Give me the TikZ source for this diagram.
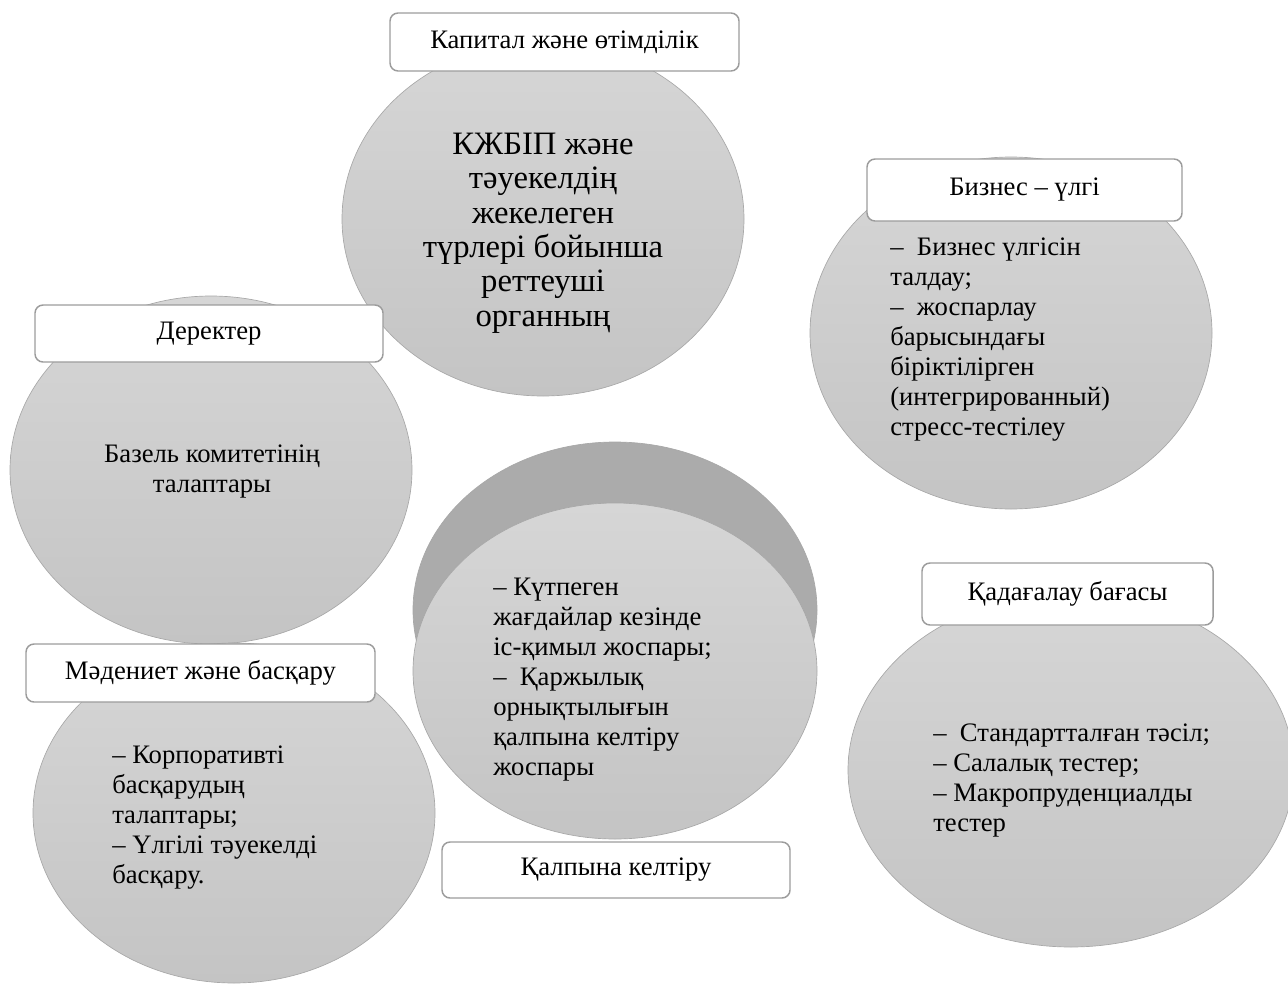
\documentclass[tikz,border=0pt]{standalone}
\usepackage{fontspec}
\setmainfont{Liberation Serif}
\usepackage{xcolor}
\usetikzlibrary{shapes.geometric, positioning}

\definecolor{bubtop}{HTML}{D6D6D6}
\definecolor{bubbot}{HTML}{C4C4C4}
\definecolor{bubline}{HTML}{A8A8A8}
\definecolor{backbub}{HTML}{ABABAB}
\definecolor{tagline}{HTML}{9C9C9C}

\tikzset{
  bubble/.style={ellipse, draw=bubline, line width=0.5pt, top color=bubtop, bottom color=bubbot, inner sep=0pt},
  tag/.style={draw=tagline, fill=white, line width=1.1pt, rounded corners=6pt, inner sep=0pt,
    font=\fontsize{20}{23}\selectfont},
  bodytext/.style={inner sep=0pt, font=\fontsize{20}{22.5}\selectfont},
}

\begin{document}
\begin{tikzpicture}[x=0.75pt, y=-0.75pt]
  \useasboundingbox (0,0) rectangle (1288,985);
  % bubbles
  \node[bubble, minimum width=301.5pt, minimum height=265.5pt] (capital) at (543,219) {};
  \node[bubble, minimum width=301.5pt, minimum height=261pt] (data) at (211,470) {};
  \node[bubble, minimum width=301.5pt, minimum height=264pt] (business) at (1011,333) {};
  \node[ellipse, fill=backbub, draw=bubline, line width=0.5pt, inner sep=0pt,
        minimum width=303pt, minimum height=252pt] (recback) at (615,610) {};
  \node[bubble, minimum width=303pt, minimum height=252pt] (recovery) at (615,671) {};
  \node[bubble, minimum width=301.5pt, minimum height=255pt] (culture) at (234,813) {};
  \node[bubble, minimum width=334.5pt, minimum height=265.5pt] (supervision) at (1071,770) {};

  % texts in the bubbles
  \node[inner sep=0pt, align=center, font=\fontsize{24.5}{25.8}\selectfont] (capitalText) at (543,233)
    {КЖБІП және\\тәуекелдің\\жекелеген\\түрлері бойынша\\реттеуші\\органның};
  \node[bodytext, align=center] (dataText) at (212,472) {Базель комитетінің\\талаптары};
  \node[bodytext, align=left, anchor=west] (businessText) at (890,340)
    {–\ \ Бизнес үлгісін\\талдау;\\–\ \ жоспарлау\\барысындағы\\біріктілірген\\(интегрированный)\\стресс-тестілеу};
  \node[bodytext, align=left, anchor=west] (recoveryText) at (493,680)
    {– Күтпеген\\жағдайлар кезінде\\іс-қимыл жоспары;\\–\ \ Қаржылық\\орнықтылығын\\қалпына келтіру\\жоспары};
  \node[bodytext, align=left, anchor=west] (cultureText) at (112,818)
    {– Корпоративті\\басқарудың\\талаптары;\\– Үлгілі тәуекелді\\басқару.};
  \node[bodytext, align=left, anchor=west] (supervisionText) at (933,780)
    {–\ \ Стандартталған тәсіл;\\– Салалық тестер;\\– Макропруденциалды\\тестер};

  % labels on top
  \node[tag, minimum width=261.75pt, minimum height=43.5pt] (capitalTag) at (564.5,42) {Капитал және өтімділік};
  \node[tag, minimum width=261pt, minimum height=42.75pt] (dataTag) at (209,333.5) {Деректер};
  \node[tag, minimum width=236.25pt, minimum height=46.5pt] (businessTag) at (1024.5,190) {Бизнес – үлгі};
  \node[tag, minimum width=261.75pt, minimum height=43.5pt] (cultureTag) at (200.5,673) {Мәдениет және басқару};
  \node[tag, minimum width=218.25pt, minimum height=46.5pt] (supervisionTag) at (1067.5,594) {Қадағалау бағасы};
  \node[tag, minimum width=261pt, minimum height=42pt] (recoveryTag) at (616,870) {Қалпына келтіру};
\end{tikzpicture}
\end{document}
